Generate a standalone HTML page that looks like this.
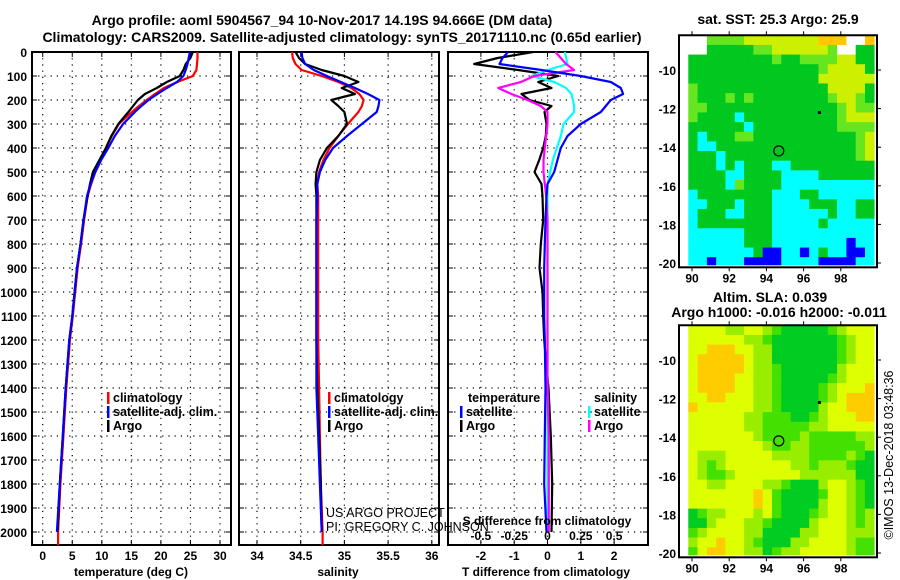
<!DOCTYPE html>
<html><head><meta charset="utf-8"><style>
html,body{margin:0;padding:0;background:#fff;}
svg{display:block;font-family:"Liberation Sans",Arial,sans-serif;}
.t{font-weight:bold;font-size:14px;}
.tk{font-weight:bold;font-size:12px;}
.lg{font-weight:bold;font-size:12.5px;}
</style></head><body>
<svg id="fig" width="900" height="580" viewBox="0 0 900 580" xmlns="http://www.w3.org/2000/svg">
<text class="t" x="322" y="25" text-anchor="middle">Argo profile: aoml 5904567_94 10-Nov-2017 14.19S 94.666E (DM data)</text>
<text class="t" x="342" y="42" text-anchor="middle">Climatology: CARS2009. Satellite-adjusted climatology: synTS_20171110.nc (0.65d earlier)</text>
<text class="t" x="778" y="24" text-anchor="middle">sat. SST: 25.3 Argo: 25.9</text>
<text class="t" x="770" y="302" text-anchor="middle">Altim. SLA: 0.039</text>
<text class="t" x="779" y="317" text-anchor="middle">Argo h1000: -0.016 h2000: -0.011</text>
<text x="893" y="455" font-size="12.5" text-anchor="middle" transform="rotate(-90 893 455)">©IMOS 13-Dec-2018 03:48:36</text>
<g id="plots"></g>
</svg>
<script>
const depths = [0,25,50,75,100,125,150,175,200,225,250,300,350,400,450,500,550,600,700,800,900,1000,1100,1200,1400,1600,1800,2000];
const tempClim = [26.2,26.2,26.1,26.0,25.4,22.8,20.5,19.0,17.6,16.3,15.1,12.9,11.7,10.7,9.8,8.9,8.2,7.6,7.0,6.5,5.9,5.5,5.1,4.6,4.0,3.5,3.0,2.6];
const tempSat = [24.9,24.7,24.5,24.2,23.8,22.7,21.0,19.4,17.9,16.7,15.6,13.6,12.2,11.1,9.9,8.9,8.1,7.5,6.9,6.4,5.8,5.4,5.0,4.5,3.9,3.4,2.9,2.4];
const tempArgo = [25.4,25.0,24.2,23.8,23.2,21.0,19.3,17.3,16.1,15.3,14.5,12.8,11.6,10.7,9.6,8.5,8.0,7.6,6.9,6.4,5.8,5.4,5.0,4.5,3.9,3.4,2.9,2.5];
const salClim = [34.40,34.41,34.44,34.51,34.74,34.93,35.08,35.17,35.22,35.20,35.16,35.04,34.93,34.83,34.76,34.71,34.69,34.70,34.70,34.70,34.70,34.70,34.70,34.70,34.71,34.72,34.73,34.75];
const salSat = [34.51,34.52,34.55,34.65,34.80,34.96,35.12,35.27,35.40,35.39,35.37,35.20,35.03,34.87,34.78,34.72,34.69,34.69,34.68,34.68,34.68,34.68,34.68,34.68,34.68,34.70,34.72,34.74];
const salArgo = [34.44,34.48,34.55,34.74,35.00,35.16,34.97,35.12,34.85,34.93,35.00,35.03,34.93,34.80,34.72,34.68,34.67,34.68,34.68,34.68,34.68,34.68,34.68,34.68,34.69,34.71,34.73,34.74];
const tDiffSat = [-1.18,-1.35,-1.44,-0.18,1.0,1.9,2.2,2.27,1.9,1.75,1.6,1.0,0.6,0.4,0.3,0.2,0.0,-0.03,-0.06,-0.08,-0.1,-0.1,-0.1,-0.08,-0.06,-0.08,-0.1,-0.03];
const tDiffArgo = [-0.43,-1.5,-2.2,-0.88,0.32,-0.28,0.12,-0.78,-0.54,0.12,-0.09,-0.03,-0.05,-0.13,-0.25,-0.39,-0.18,-0.15,-0.13,-0.2,-0.24,-0.15,-0.13,-0.1,0.03,0.1,0.14,0.12];
const sDiffSat = [0.13,0.14,0.15,0.0,-0.12,0.05,0.14,0.18,0.19,0.2,0.2,0.12,0.1,0.07,0.04,0.02,0,0,0,0,0,0,0,0,0,0,0,0];
const sDiffArgo = [0.06,0.1,0.14,0.2,-0.1,-0.2,-0.37,-0.27,-0.15,-0.05,0,0,-0.01,-0.02,-0.03,-0.03,-0.02,-0.01,0,0,0,0,0,0,0,0.01,0.01,0.01];
const depthTicks = [0,100,200,300,400,500,600,700,800,900,1000,1100,1200,1300,1400,1500,1600,1700,1800,1900,2000];
const tempTicks = [0,5,10,15,20,25,30];
const salTicks = [34,34.5,35,35.5,36];
const tDiffTicks = [-2,-1,0,1,2];
const sDiffTicks = [-0.5,-0.25,0,0.25,0.5];
const sDiffTickLabels = ["-0.5","-0.25","0","0.25","0.5"];
const mapLonTicks = [90,92,94,96,98];
const mapLatTicks = [-10,-12,-14,-16,-18,-20];
const sstGrid = [
"WWLLLLYYYYYYYYOOOWWO","WWGGGGGLLYYYYYYLWWGG","GGGGGGGGGLGGLLLLYYGG","GGGGGGGGGGGGGGLYYYYG",
"GGGGGGGGGGGGGGYYYYYY","LGGGGGGGGGGGGGGYYYYG","LGGGLGLGGGGGGGGLYYLG","LLGGGGGGGGGGGGGGLYLL",
"LGGGGCGGGGGGGGGGLYYY","GGGGGGCGGGGGGGGGLLLL","GCGGGLLGGGGGGGGGGGLY","GCCGGGGGGGGGGGGGGGLY",
"GGGCGGGGGGGGGGGGGGLY","GGGCGCGGGCCGGGGGGGGG","GGGGCCGGGGCCCCGGGGGG","GGGGCLGGGGCCCCCCCCCC",
"CGGGGGGGGCCCGGCCCCCC","CCGGGCGGGCCCCGGGCCGG","CGGGCCGGGCCCCCCGCCGG","CGGGGGGGGCCCCCGCCCCC",
"CCCCCCGGGCCCCCCCCCCC","CCCCCCGGGCCCCCCCCBCC","CCCCCCCGBBCCBCGCCBBC","CCBCCCBBBBCCCCBBBBCC"];
const slaGrid = [
"YYYYLLYYLMGGGGGMLYYY","YYYYYYLLMGGGGGGGMLYY","YYOOOYYLLGGGGGGGMLYY","YOOOOOYLLGGGGGGGMLYY",
"YOOOOOYLLMGGGGGGLYYY","YOOOOYYLLMGGGGGMLYYY","YOOOOYYLLMGGGGMLYYYO","YYOOYYYLLMGGGGMLYOOO",
"OYYYYYYLLMGGGGLYYOOO","YYYYYYLLMMMGGMLYYYOO","YYYYYYLLMMMMMLLYYYYY","YYYYYYYLMMMMLMMMMMLL",
"YYYYYYYYLMMLLMMMMMML","YLLLYYYYYLLLLMMMMLMG","YLMLYYYYYYYLLMLLLMGG","YLMMLYYYYYYYLLLLLLGG",
"YYLLYYYYLLMGGGLYYLMG","YYYYYYYOYMGGGGMYYLMG","YYYYYYYOYMGGGGLYYLMG","GMLLYYYLYMGGGMLYYLML",
"GGLYYYLLMGGGGLYYYLML","MLYYYYLLGGGGLLYYYLLL","LYYOYYLMGGGLLYYYYLMM","MYOOYYLLGMLLYYYYYLMM"];
const floatLon = 94.666, floatLat = -14.19;

const NS = "http://www.w3.org/2000/svg";
const root = document.getElementById("plots");
function mk(tag, attrs, parent){ const e=document.createElementNS(NS,tag); for(const k in attrs) e.setAttribute(k,attrs[k]); (parent||root).appendChild(e); return e; }

const Y0=52, PY=0.24, PBOT=545;
const yD = d => Y0 + d*PY;
const panels = [
 {x0:32,x1:231,f:v=>42.7+v*5.91},
 {x0:239,x1:439,f:v=>257+(v-34)*87.4},
 {x0:448,x1:648,f:v=>547.5+v*33.3}
];
const xS = v => 547.5 + v*133.2;

function gridAndFrame(p, ticks, name){
  const g = mk("g",{});
  
  
  depthTicks.forEach(d=>{ mk("line",{x1:p.x0,x2:p.x1,y1:yD(d),y2:yD(d),stroke:"#000","stroke-width":1.2,"stroke-dasharray":"1.2 5"},g);
    mk("line",{x1:p.x0,x2:p.x0+5,y1:yD(d),y2:yD(d),stroke:"#000"},g);
    mk("line",{x1:p.x1-5,x2:p.x1,y1:yD(d),y2:yD(d),stroke:"#000"},g); });
  ticks.forEach(t=>{ const x=p.f(t); mk("line",{x1:x,x2:x,y1:Y0,y2:PBOT,stroke:"#000","stroke-width":1.2,"stroke-dasharray":"1.2 5"},g);
    mk("line",{x1:x,x2:x,y1:PBOT,y2:PBOT-5,stroke:"#000"},g); mk("line",{x1:x,x2:x,y1:Y0,y2:Y0+5,stroke:"#000"},g); });
  const fr = mk("rect",{x:p.x0,y:Y0,width:p.x1-p.x0,height:PBOT-Y0,fill:"none",stroke:"#000","stroke-width":2});
  
  
}
function line(vals, fx, color, name, maxD){
  const pts=[]; depths.forEach((d,i)=>pts.push(fx(vals[i]).toFixed(1)+","+yD(d).toFixed(1)));
  if(maxD){ pts.push(fx(vals[vals.length-1]).toFixed(1)+","+yD(maxD).toFixed(1)); }
  const pl = mk("polyline",{points:pts.join(" "),fill:"none",stroke:color,"stroke-width":2.2,"stroke-linejoin":"round"});
  
  
}
function txt(x,y,s,cls,anchor,name,fill){
  const t = mk("text",{x:x,y:y,class:cls,"text-anchor":anchor||"start",fill:fill||"#000"}); t.textContent=s;
  
  
  return t;
}
function legendEntry(x,y,color,label,name){
  const r = mk("rect",{x:x,y:y-10,width:2.5,height:12,fill:color});
  
  
  txt(x+6,y,label,"lg","start",name);
}

gridAndFrame(panels[0], tempTicks, "temperature-panel");
gridAndFrame(panels[1], salTicks, "salinity-panel");
gridAndFrame(panels[2], tDiffTicks, "difference-panel");

depthTicks.forEach(d=>txt(27,yD(d)+5,String(d),"tk","end","depth-tick-label"));
tempTicks.forEach(t=>txt(panels[0].f(t),560,String(t),"tk","middle","temperature-tick-label"));
salTicks.forEach(t=>txt(panels[1].f(t),560,String(t),"tk","middle","salinity-tick-label"));
tDiffTicks.forEach(t=>txt(panels[2].f(t),560,String(t),"tk","middle","t-diff-tick-label"));
txt(131,576,"temperature (deg C)","tk","middle","temperature-axis-title");
txt(338,576,"salinity","tk","middle","salinity-axis-title");
txt(546,576,"T difference from climatology","tk","middle","t-diff-axis-title");

line(tempClim, panels[0].f, "#ff0000", "temperature-climatology-line", 2055);
line(tempArgo, panels[0].f, "#000000", "temperature-argo-line");
line(tempSat, panels[0].f, "#0000ff", "temperature-satellite-line");
line(salClim, panels[1].f, "#ff0000", "salinity-climatology-line", 2055);
line(salArgo, panels[1].f, "#000000", "salinity-argo-line");
line(salSat, panels[1].f, "#0000ff", "salinity-satellite-line");
line(tDiffArgo, panels[2].f, "#000000", "t-diff-argo-line");
line(sDiffSat, xS, "#00ffff", "s-diff-satellite-line");
line(sDiffArgo, xS, "#ff00ff", "s-diff-argo-line");
line(tDiffSat, panels[2].f, "#0000ff", "t-diff-satellite-line");

legendEntry(107,402,"#ff0000","climatology","temp-legend-climatology");
legendEntry(107,416,"#0000ff","satellite-adj. clim.","temp-legend-satellite");
legendEntry(107,430,"#000000","Argo","temp-legend-argo");
legendEntry(328,402,"#ff0000","climatology","sal-legend-climatology");
legendEntry(328,416,"#0000ff","satellite-adj. clim.","sal-legend-satellite");
legendEntry(328,430,"#000000","Argo","sal-legend-argo");
txt(468,402,"temperature","lg","start","diff-legend-temperature-header");
txt(594,402,"salinity","lg","start","diff-legend-salinity-header");
legendEntry(460,416,"#0000ff","satellite","diff-legend-t-satellite");
legendEntry(460,430,"#000000","Argo","diff-legend-t-argo");
legendEntry(588,416,"#00ffff","satellite","diff-legend-s-satellite");
legendEntry(588,430,"#ff00ff","Argo","diff-legend-s-argo");

const u1 = txt(326,517,"US ARGO PROJECT","","start","project-credit"); u1.setAttribute("font-size","12.5");
const u2 = txt(326,531,"PI: GREGORY C. JOHNSON","","start","pi-credit"); u2.setAttribute("font-size","12.5");
txt(547,525,"S difference from climatology","tk","middle","s-diff-axis-title");
sDiffTicks.forEach((t,i)=>txt(xS(t),540,sDiffTickLabels[i],"tk","middle","s-diff-tick-label"));

// maps
const lonX = l => 692 + (l-90)*18.6;
const colors = {W:"#ffffff",G:"#00c81e",L:"#66e61e",Y:"#ccf000",O:"#ffc800",C:"#00ffff",B:"#0000ff",M:"#44dc10"};
const slaColors = {W:"#ffffff",G:"#00cc22",M:"#44e000",L:"#99ee00",Y:"#ddff00",O:"#ffcc00"};
function drawMap(grid, pal, top, name){
  const latY = lat => top + 70 + (-10-lat)*19.3;
  const g = mk("g",{});
  
  
  const fx0=679, fy0=latY(-8.2), fy1=latY(-20.12), fx1=877;
  grid.forEach((row,r)=>{ for(let c=0;c<row.length;c++){
    const lon0=89.8+c*0.5, lat0=-8.2-r*0.5;
    const x=lonX(lon0), y=latY(lat0), w=Math.min(lonX(lon0+0.5),fx1)-x, h=latY(lat0-0.5)-y;
    const cell = mk("rect",{x:x.toFixed(2),y:y.toFixed(2),width:(w+0.3).toFixed(2),height:Math.min(h+0.3,fy1-y).toFixed(2),fill:pal[row[c]]},g);
    
    
  }});
  const fr = mk("rect",{x:fx0,y:fy0,width:fx1-fx0,height:fy1-fy0+2,fill:"none",stroke:"#000","stroke-width":2},g);
  
  
  mapLatTicks.forEach(l=>{ const y=latY(l);
    mk("line",{x1:fx1,x2:fx1+4,y1:y,y2:y,stroke:"#000"},g);
    txt(676,y+5,String(l),"tk","end",name+"-lat-label"); });
  mapLonTicks.forEach(l=>{ const x=lonX(l);
    mk("line",{x1:x,x2:x,y1:fy0-4,y2:fy0,stroke:"#000"},g); mk("line",{x1:x,x2:x,y1:fy1+2,y2:fy1+6,stroke:"#000"},g);
    txt(x,fy1+17,String(l),"tk","middle",name+"-lon-label"); });
  const c = mk("circle",{cx:lonX(floatLon),cy:latY(floatLat),r:5,fill:"none",stroke:"#000","stroke-width":1.2},g);
  
  
  mk("rect",{x:lonX(96.85)-1.5,y:latY(-12.2)-1.5,width:3,height:3,fill:"#000"},g);
}
drawMap(sstGrid, colors, 0, "sst-map");
drawMap(slaGrid, slaColors, 290, "sla-map");
</script>
</body></html>
